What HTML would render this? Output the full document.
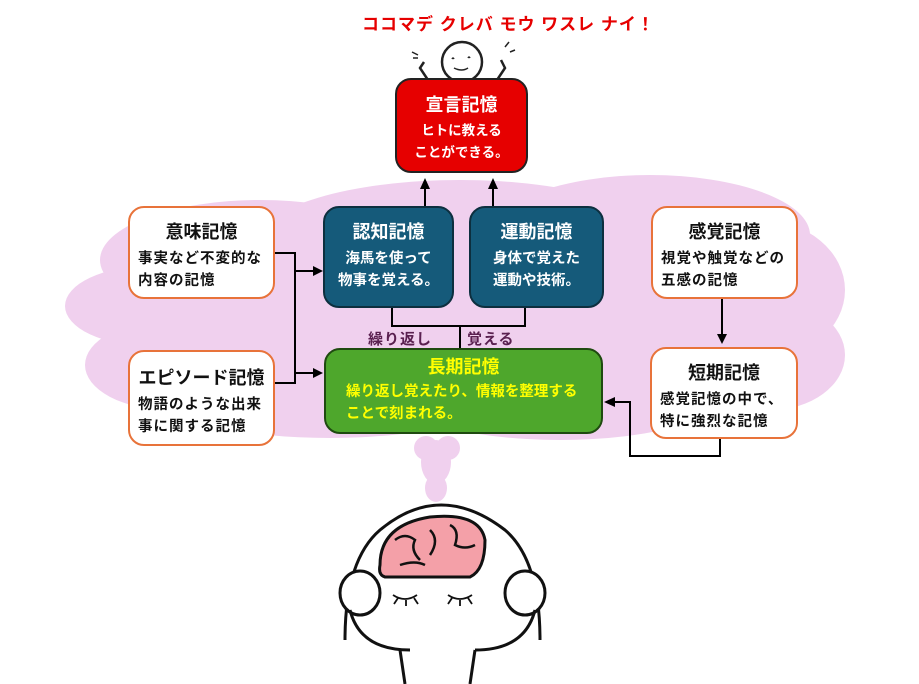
<!DOCTYPE html>
<html><head><meta charset="utf-8"><style>
body{margin:0;width:919px;height:684px;background:#fff;overflow:hidden;position:relative;font-family:"Liberation Sans","Noto Sans CJK JP",sans-serif;}
.b{position:absolute;box-sizing:border-box;border-radius:16px;text-align:center;}
.o{background:#fff;border:2.5px solid #e8733a;color:#111;}
.d{background:#155a7a;border:2px solid #0d2f3f;color:#fff;}
.t{font-weight:bold;font-size:18px;margin-top:12px;line-height:24px;}
.s{font-size:14.5px;line-height:22px;font-weight:bold;margin-top:4px;letter-spacing:1px;white-space:nowrap;}
.l{text-align:left;padding-left:8px;}
</style></head><body>
<svg width="919" height="684" style="position:absolute;left:0;top:0">
<g fill="#f0d0ee">
<ellipse cx="260" cy="260" rx="160" ry="60"/>
<ellipse cx="460" cy="240" rx="200" ry="60"/>
<ellipse cx="650" cy="235" rx="160" ry="60"/>
<ellipse cx="760" cy="290" rx="85" ry="70"/>
<ellipse cx="770" cy="355" rx="75" ry="55"/>
<ellipse cx="150" cy="306" rx="85" ry="40"/>
<ellipse cx="170" cy="365" rx="85" ry="45"/>
<ellipse cx="330" cy="400" rx="160" ry="38"/>
<ellipse cx="560" cy="390" rx="170" ry="50"/>
<rect x="130" y="230" width="630" height="180"/>
<ellipse cx="436" cy="462" rx="15" ry="22"/>
<ellipse cx="436" cy="488" rx="11" ry="14"/>
<ellipse cx="426" cy="448" rx="12" ry="12"/>
<ellipse cx="448" cy="448" rx="12" ry="12"/>
</g>
<g stroke="#000" stroke-width="2" fill="none">
<polyline points="274,253 295,253 295,383 274,383"/>
<line x1="295" y1="271" x2="314" y2="271"/>
<line x1="295" y1="373" x2="314" y2="373"/>
<line x1="425" y1="206" x2="425" y2="188"/>
<line x1="493" y1="206" x2="493" y2="188"/>
<polyline points="392,307 392,326 525,326 525,307"/>
<line x1="460" y1="326" x2="460" y2="348"/>
<line x1="722" y1="298" x2="722" y2="335"/>
<polyline points="720,438 720,456 630,456 630,402 614,402"/>
</g>
<g fill="#000">
<polygon points="323,271 313,266 313,276"/>
<polygon points="323,373 313,368 313,378"/>
<polygon points="425,178 420,189 430,189"/>
<polygon points="493,178 488,189 498,189"/>
<polygon points="722,344 717,334 727,334"/>
<polygon points="604,402 615,397 615,407"/>
</g>
<g stroke="#222" stroke-width="2.5" fill="#fff">
<path d="M428,80 L420,68 L424,62 M497,80 L505,68 L501,60"/>
<circle cx="462" cy="62" r="20"/>
</g>
<path d="M452,59 q1,-2 2,0 M468,58 q1,-2 2,0 M454,68 q8,4 14,0" stroke="#222" stroke-width="1.5" fill="none"/>
<path d="M412,52 l6,3 M413,58 l5,0 M505,47 l4,-5 M510,52 l5,-2" stroke="#222" stroke-width="1.5"/>
<g stroke="#111" stroke-width="3" fill="#fff">
<path d="M345,640 Q345,560 380,530 Q440,480 505,530 Q540,560 540,640"/>
<ellipse cx="360" cy="593" rx="20" ry="22"/>
<ellipse cx="525" cy="593" rx="20" ry="22"/>
<path d="M350,610 Q360,650 410,650 M535,610 Q525,650 475,650" fill="none"/>
<path d="M405,684 L400,650 M475,650 L470,684" fill="none"/>
</g>
<path d="M380,565 Q380,525 430,517 Q480,512 485,540 Q485,570 470,577 L385,577 Q378,575 380,565Z" fill="#f4a0a8" stroke="#111" stroke-width="3"/>
<path d="M395,540 q10,-8 20,0 q-5,10 5,20 M430,530 q10,10 0,25 M450,525 q10,5 5,20 q10,5 20,0 M400,565 q15,-5 25,0" stroke="#111" stroke-width="2.5" fill="none"/>
<path d="M393,595 q12,8 24,0 M398,598 l-4,6 M406,600 l0,6 M414,598 l4,6 M448,595 q12,8 24,0 M452,598 l-4,6 M460,600 l0,6 M468,598 l4,6" stroke="#111" stroke-width="1.8" fill="none"/>
</svg>
<div style="position:absolute;left:362px;top:10px;font-size:17px;font-weight:bold;color:#e60000;letter-spacing:1px;">ココマデ クレバ モウ ワスレ ナイ！</div>
<div class="b" style="left:395px;top:78px;width:133px;height:95px;background:#e60000;border:2.5px solid #222;color:#fff;">
<div class="t" style="margin-top:13px">宣言記憶</div><div class="s" style="margin-top:3px;font-size:13.5px;letter-spacing:0">ヒトに教える<br>ことができる。</div></div>
<div class="b d" style="left:323px;top:206px;width:131px;height:102px"><div class="t">認知記憶</div><div class="s" style="letter-spacing:0">海馬を使って<br>物事を覚える。</div></div>
<div class="b d" style="left:469px;top:206px;width:135px;height:102px"><div class="t">運動記憶</div><div class="s" style="letter-spacing:0">身体で覚えた<br>運動や技術。</div></div>
<div class="b" style="left:324px;top:348px;width:279px;height:86px;background:#4ea72c;border:2px solid #1f4a10;color:#ffff00;">
<div class="t" style="margin-top:5px">長期記憶</div><div class="s l" style="margin-top:2px;padding-left:20px;letter-spacing:0">繰り返し覚えたり、情報を整理する<br>ことで刻まれる。</div></div>
<div class="b o" style="left:128px;top:206px;width:147px;height:93px"><div class="t">意味記憶</div><div class="s l">事実など不変的な<br>内容の記憶</div></div>
<div class="b o" style="left:128px;top:350px;width:147px;height:96px"><div class="t" style="margin-top:14px">エピソード記憶</div><div class="s l">物語のような出来<br>事に関する記憶</div></div>
<div class="b o" style="left:651px;top:206px;width:147px;height:93px"><div class="t">感覚記憶</div><div class="s l">視覚や触覚などの<br>五感の記憶</div></div>
<div class="b o" style="left:650px;top:347px;width:148px;height:92px"><div class="t">短期記憶</div><div class="s l">感覚記憶の中で、<br>特に強烈な記憶</div></div>
<div style="position:absolute;left:368px;top:328px;font-size:15px;font-weight:bold;color:#5a2050;letter-spacing:1px">繰り返し</div>
<div style="position:absolute;left:467px;top:328px;font-size:15px;font-weight:bold;color:#5a2050;letter-spacing:1px">覚える</div>
</body></html>
